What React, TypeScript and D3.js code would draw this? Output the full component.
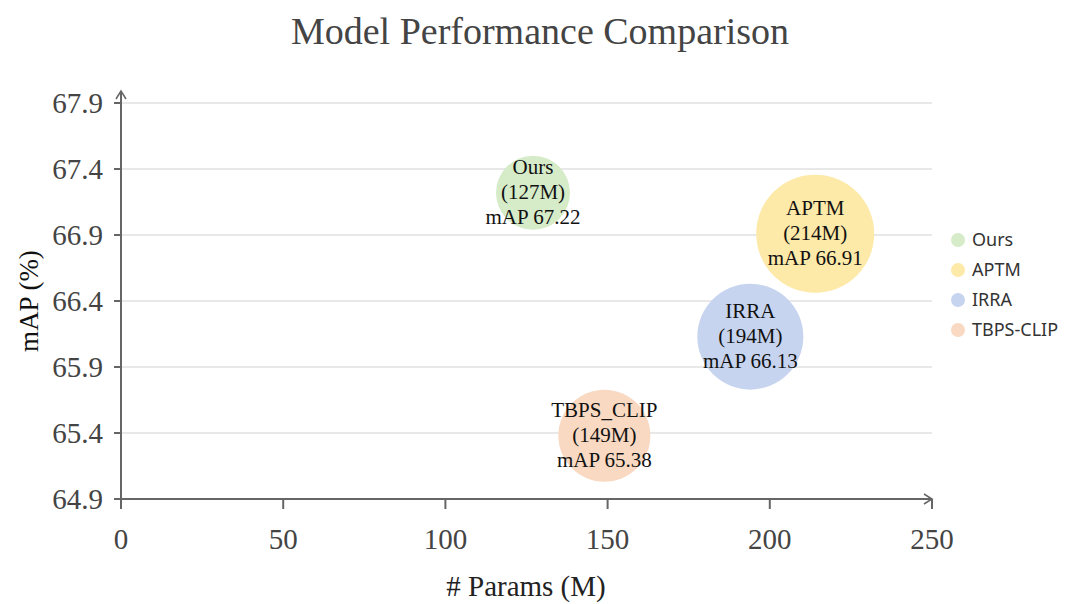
import { useMemo } from 'react';
import * as d3 from 'd3';

const models = ['Ours', 'APTM', 'IRRA', 'TBPS-CLIP'];
const labelNames = ['Ours', 'APTM', 'IRRA', 'TBPS_CLIP'];
const params = [127, 214, 194, 149];
const mAP = [67.22, 66.91, 66.13, 65.38];
const xTicks = [0, 50, 100, 150, 200, 250];
const yTicks = [64.9, 65.4, 65.9, 66.4, 66.9, 67.4, 67.9];

// styling
const colors = ['#d6ecc8', '#fde9a8', '#c7d4ef', '#f9d9c1'];
const radii = [37, 59, 53, 46];

const W = 1070;
const H = 604;
const margin = { top: 103, right: 138, bottom: 105, left: 121 };
const serif = '"Liberation Serif", "Times New Roman", serif';

export default function App() {
  const x = useMemo(
    () => d3.scaleLinear().domain([0, 250]).range([margin.left, W - margin.right]),
    []
  );
  const y = useMemo(
    () => d3.scaleLinear().domain([64.9, 67.9]).range([H - margin.bottom, margin.top]),
    []
  );

  const x0 = x(0);
  const x1 = x(250);
  const y0 = y(64.9);
  const y1 = y(67.9);
  const axisColor = '#666';

  return (
    <svg width={W} height={H} style={{ position: 'absolute', left: 0, top: 0, background: '#fff' }}>
      <text x={540} y={44} textAnchor="middle" fontFamily={serif} fontSize={38} fill="#444">
        Model Performance Comparison
      </text>

      {/* grid */}
      {yTicks.slice(1).map((t) => (
        <line key={t} x1={x0} x2={x1} y1={y(t)} y2={y(t)} stroke="#e0e0e0" strokeWidth={1.5} />
      ))}

      {/* bubbles */}
      {models.map((m, i) => (
        <circle key={m} cx={x(params[i])} cy={y(mAP[i])} r={radii[i]} fill={colors[i]} />
      ))}
      {models.map((m, i) => {
        const cx = x(params[i]);
        const cy = y(mAP[i]);
        const lines = [labelNames[i], `(${params[i]}M)`, `mAP ${mAP[i].toFixed(2)}`];
        return (
          <text key={m} textAnchor="middle" fontFamily={serif} fontSize={21} fill="#111">
            {lines.map((l, j) => (
              <tspan key={j} x={cx} y={cy + (j - 1) * 25 + 6}>
                {l}
              </tspan>
            ))}
          </text>
        );
      })}

      {/* y axis */}
      <line x1={x0} x2={x0} y1={y0 + 8} y2={y1 - 11} stroke={axisColor} strokeWidth={2} />
      <path
        d={`M${x0 - 5},${y1 - 4} L${x0},${y1 - 12} L${x0 + 5},${y1 - 4}`}
        fill="none"
        stroke={axisColor}
        strokeWidth={1.5}
      />
      {yTicks.map((t) => (
        <g key={t}>
          <line x1={x0 - 7} x2={x0} y1={y(t)} y2={y(t)} stroke={axisColor} strokeWidth={2} />
          <text
            x={x0 - 18}
            y={y(t)}
            dy="0.35em"
            textAnchor="end"
            fontFamily={serif}
            fontSize={29}
            fill="#444"
          >
            {t.toFixed(1)}
          </text>
        </g>
      ))}

      {/* x axis */}
      <line x1={x0} x2={x1} y1={y0} y2={y0} stroke={axisColor} strokeWidth={2} />
      <path
        d={`M${x1 - 8},${y0 - 5} L${x1},${y0} L${x1 - 8},${y0 + 5}`}
        fill="none"
        stroke={axisColor}
        strokeWidth={1.5}
      />
      {xTicks.map((t) => (
        <g key={t}>
          <line x1={x(t)} x2={x(t)} y1={y0} y2={y0 + 10} stroke={axisColor} strokeWidth={2} />
          <text
            x={x(t)}
            y={y0 + 40}
            dy="0.35em"
            textAnchor="middle"
            fontFamily={serif}
            fontSize={29}
            fill="#444"
          >
            {t}
          </text>
        </g>
      ))}

      <text x={526} y={596} textAnchor="middle" fontFamily={serif} fontSize={29} fill="#222">
        # Params (M)
      </text>
      <text
        transform={`translate(38, ${(y0 + y1) / 2}) rotate(-90)`}
        textAnchor="middle"
        fontFamily={serif}
        fontSize={27}
        fill="#111"
      >
        mAP (%)
      </text>

      {/* legend */}
      {models.map((m, i) => (
        <g key={m} transform={`translate(958, ${240 + i * 30})`}>
          <circle cx={0} cy={0} r={7} fill={colors[i]} />
          <text x={14} y={0} dy="0.35em" fontFamily='"Noto Sans", sans-serif' fontSize={18} fill="#333">
            {m}
          </text>
        </g>
      ))}
    </svg>
  );
}
